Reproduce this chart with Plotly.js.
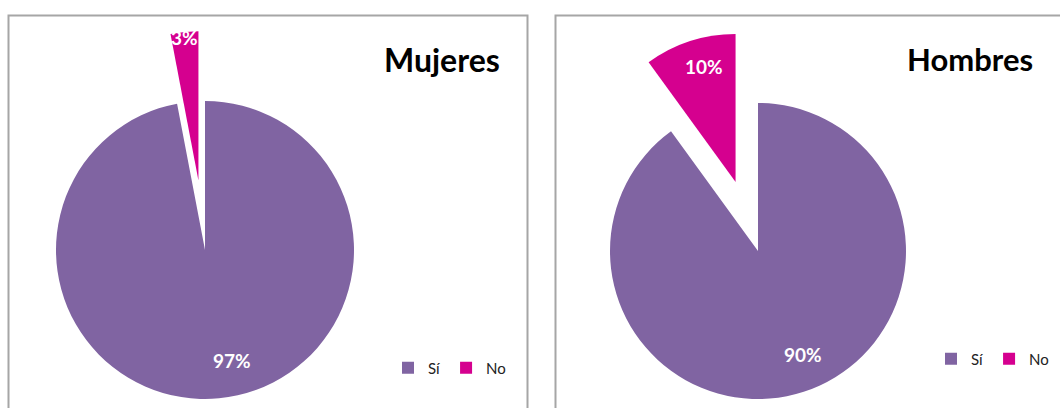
<!DOCTYPE html>
<html>
<head>
<meta charset="utf-8">
<script src="https://cdn.plot.ly/plotly-3.0.1.min.js"></script>
<style>
  html, body { margin: 0; padding: 0; width: 1060px; height: 408px; overflow: hidden; background: #fff; }
  #chart { position: absolute; left: -30px; top: 0; width: 1120px; height: 520px; }
</style>
</head>
<body>
<div id="chart"></div>
<script>
// ---- data ----
const labels = ["Sí", "No"];
const mujeresValues = [97, 3];
const hombresValues = [90, 10];
const chartTitles = ["Mujeres", "Hombres"];
const sliceColors = ["#8064A2", "#D5008F"];

// ---- geometry (page pixels) ----
const W = 1120, H = 520, OFF = 30;
const px = x => (x + OFF) / W;
const py = y => (H - y) / H;
const font = "Lato, 'Open Sans', sans-serif";

// pie centre, radius, pull of the "No" slice, and where the percent labels sit
// (label: [angle clockwise from 12 o'clock, distance as fraction of r] from the slice vertex)
const pies = [
  { values: mujeresValues, cx: 205, cy: 250, r: 149, pull: 0.47, legend: "legend", group: "mujeres",
    labelPos: [[166.3, 0.766], [354.6, 0.96]] },
  { values: hombresValues, cx: 758, cy: 251, r: 148, pull: 0.49, legend: "legend2", group: "hombres",
    labelPos: [[156.5, 0.765], [344.5, 0.81]] }
];

function dom(p) {
  const half = p.r * (1 + p.pull);
  return {
    x: [(p.cx + OFF - half) / W, (p.cx + OFF + half) / W],
    y: [(H - (p.cy + half)) / H, (H - (p.cy - half)) / H]
  };
}

const rad = d => d * Math.PI / 180;
const traces = [];
const labelAnnotations = [];
pies.forEach(p => {
  const total = p.values.reduce((a, b) => a + b, 0);
  traces.push({
    type: "pie",
    labels: labels,
    values: p.values,
    sort: false,
    direction: "clockwise",
    rotation: 0,
    pull: [0, p.pull],
    domain: dom(p),
    marker: { colors: sliceColors, line: { width: 0 } },
    textinfo: "none",
    hoverinfo: "skip",
    legend: p.legend,
    legendgroup: p.group,
    showlegend: true
  });
  // percent labels, placed relative to each slice's vertex
  let start = 0;
  p.values.forEach((v, i) => {
    const frac = v / total;
    const mid = (start + frac / 2) * 360;
    const pullDist = i === 0 ? 0 : p.pull * p.r;
    const vx = p.cx + pullDist * Math.sin(rad(mid));
    const vy = p.cy - pullDist * Math.cos(rad(mid));
    const [ang, f] = p.labelPos[i];
    const lx = vx + f * p.r * Math.sin(rad(ang));
    const ly = vy - f * p.r * Math.cos(rad(ang));
    labelAnnotations.push({
      text: Math.round(frac * 100) + "%",
      xref: "paper", yref: "paper", x: px(lx), y: py(ly),
      xanchor: "center", yanchor: "middle", showarrow: false,
      font: { family: font, size: 19, color: "#ffffff", weight: "bold" }
    });
    start += frac;
  });
});

const legendBase = {
  orientation: "h",
  traceorder: "normal",
  font: { family: font, size: 15, color: "#222222" },
  bgcolor: "rgba(0,0,0,0)",
  yanchor: "middle",
  xanchor: "left",
  itemclick: false,
  itemdoubleclick: false
};

const layout = {
  width: W,
  height: H,
  margin: { l: 0, r: 0, t: 0, b: 0 },
  paper_bgcolor: "#ffffff",
  plot_bgcolor: "#ffffff",
  showlegend: true,
  legend: Object.assign({}, legendBase, { x: px(388), y: py(368) }),
  legend2: Object.assign({}, legendBase, { x: px(931), y: py(359) }),
  shapes: [
    { type: "rect", xref: "paper", yref: "paper", x0: px(8.5), x1: px(527.5), y0: py(440), y1: py(15.5),
      line: { color: "#A6A6A6", width: 2 }, fillcolor: "rgba(0,0,0,0)", layer: "below" },
    { type: "rect", xref: "paper", yref: "paper", x0: px(555.5), x1: px(1085), y0: py(440), y1: py(15.5),
      line: { color: "#A6A6A6", width: 2 }, fillcolor: "rgba(0,0,0,0)", layer: "below" }
  ],
  annotations: [
    { text: chartTitles[0], xref: "paper", yref: "paper", x: px(502), y: py(59), xanchor: "right", yanchor: "middle",
      showarrow: false, font: { family: font, size: 32, color: "#000000", weight: "bold" } },
    { text: chartTitles[1], xref: "paper", yref: "paper", x: px(1035), y: py(59), xanchor: "right", yanchor: "middle",
      showarrow: false, font: { family: font, size: 31, color: "#000000", weight: "bold" } }
  ].concat(labelAnnotations)
};

Plotly.newPlot("chart", traces, layout, { displayModeBar: false, staticPlot: true });
</script>
</body>
</html>
